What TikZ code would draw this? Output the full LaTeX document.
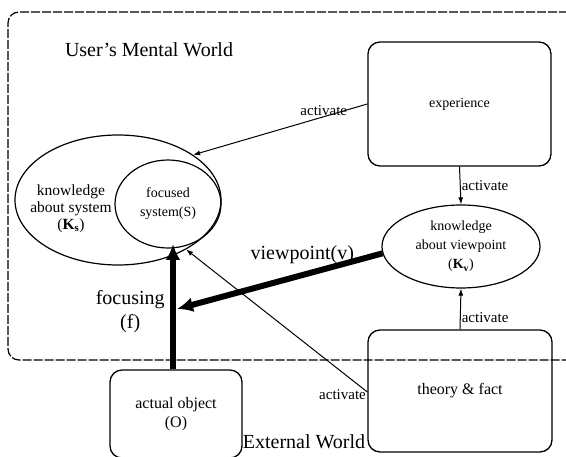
\documentclass[tikz,border=0pt]{standalone}
\usepackage{fontspec}
\setmainfont{Liberation Serif}
\usetikzlibrary{arrows.meta,shapes.geometric}
\tikzset{
  world/.style  ={draw=black, line width=1.2pt, dash pattern=on 9pt off 2pt, rounded corners=11pt},
  box/.style    ={draw=black, line width=1.3pt, rounded corners=12pt, align=center},
  oval/.style   ={draw=black, line width=1.2pt, ellipse, inner sep=0pt, align=center},
  txt/.style    ={font=\fontsize{14}{19}\selectfont, align=center},
  bigtxt/.style ={font=\fontsize{20}{24}\selectfont, align=center},
  act/.style    ={font=\fontsize{15}{18}\selectfont, inner sep=1pt},
  link/.style   ={draw=black, line width=1pt, -{Latex[length=7pt,width=5pt]}},
  heavy/.style  ={draw=black, line width=6pt, -{Latex[length=16pt,width=15pt]}},
}
\begin{document}
\begin{tikzpicture}[x=1pt, y=-1pt]
  \useasboundingbox (0,0) rectangle (566,457);
  \draw[world] (590,12) -- (8,12) -- (8,360) -- (590,360);
  \node[bigtxt] (mental) at (149,50) {User's Mental World};
  \node[bigtxt] (external) at (304,442) {External World};
  \node[box, txt, minimum width=183pt, minimum height=124pt] (exp) at (459.5,104) {experience};
  \node[box, font=\fontsize{16}{19}\selectfont, minimum width=184pt, minimum height=122pt] (theory) at (460,391) {theory \& fact};
  \node[box, font=\fontsize{16}{19}\selectfont, minimum width=132pt, minimum height=88pt] (obj) at (176,414) {actual object\\(O)};
  \node[oval, txt, minimum width=158pt, minimum height=83pt] (Kv) at (461,246.5)
    {knowledge\\about viewpoint\\(\textbf{K\textsubscript{v}})};
  \node[oval, minimum width=206pt, minimum height=130pt] (Ks) at (118,200) {};
  \node[oval, txt, minimum width=106pt, minimum height=88pt] (S) at (168,204) {focused\\system(S)};
  \node[font=\fontsize{15.5}{17}\selectfont, align=center] (Kstxt) at (71,209)
    {knowledge\\about system\\(\textbf{K\textsubscript{s}})};
  \coordinate (ftip) at (obj.north -| 173,0);
  \coordinate (fend) at (173,244);
  \coordinate (vtip) at (177,309);
  \draw[link] (exp.west) -- node[act, near start, above] {activate} (Ks.31);
  \draw[link] (exp.south) -- node[act, midway, right] {activate} (Kv.north);
  \draw[link] (theory.north) -- node[act, pos=0.3, right] {activate} (Kv.south);
  \draw[link] ([yshift=-1pt]theory.west) -- node[act, pos=0, left, yshift=-3pt] {activate} (Ks.-36);
  \draw[heavy] (ftip) -- node[bigtxt, pos=0.46, left=2pt] (foc) {focusing\\(f)} (fend);
  \draw[heavy] (Kv.185) -- node[bigtxt, pos=0.39, above=5pt] (vp) {viewpoint(v)} (vtip);
\end{tikzpicture}
\end{document}
